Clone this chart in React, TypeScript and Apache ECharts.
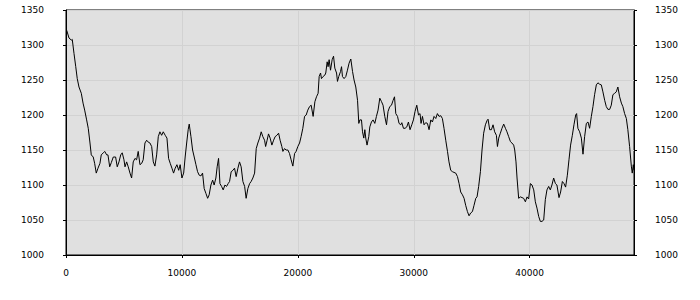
import React, { useEffect, useRef } from "react";
import * as echarts from "echarts";

const xValues: number[] = [
  60, 260, 460, 540, 690, 840, 970, 1120, 1320, 1470, 1610, 1780, 1920, 2070, 2180, 2350, 2470, 2610, 2760, 2930,
  3040, 3220, 3340, 3510, 3620, 3770, 3910, 4080, 4280, 4420, 4570, 4720, 4850, 5000, 5090, 5230, 5370, 5520, 5660, 5800,
  5950, 6090, 6230, 6380, 6530, 6660, 6810, 6960, 7040, 7240, 7390, 7530, 7670, 7820, 7960, 8100, 8250, 8390, 8560, 8710,
  8850, 8990, 9140, 9280, 9420, 9570, 9720, 9850, 10000, 10150, 10280, 10410, 10540, 10630, 10780, 10920, 11060, 11210, 11350, 11490,
  11640, 11780, 11920, 12070, 12220, 12350, 12500, 12650, 12780, 12930, 13040, 13160, 13280, 13420, 13560, 13710, 13850, 13990, 14110, 14250,
  14400, 14540, 14680, 14830, 14970, 15110, 15260, 15410, 15540, 15690, 15840, 15970, 16120, 16270, 16410, 16550, 16700, 16840, 16980, 17130,
  17220, 17350, 17470, 17610, 17760, 17910, 18040, 18190, 18340, 18470, 18620, 18710, 18850, 18990, 19140, 19280, 19420, 19570, 19720, 19850,
  20000, 20150, 20280, 20430, 20580, 20720, 20860, 21010, 21150, 21320, 21470, 21610, 21750, 21840, 21960, 22040, 22180, 22330, 22410, 22530,
  22610, 22700, 22820, 22960, 23080, 23190, 23340, 23420, 23530, 23680, 23770, 23850, 23990, 24140, 24280, 24420, 24570, 24720, 24850, 25000,
  25150, 25260, 25350, 25490, 25580, 25690, 25780, 25860, 25970, 26120, 26210, 26350, 26490, 26640, 26780, 26920, 27070, 27220, 27350, 27500,
  27650, 27780, 27930, 28080, 28220, 28340, 28450, 28600, 28730, 28880, 28970, 29110, 29250, 29400, 29540, 29680, 29830, 29970, 30110, 30260,
  30410, 30540, 30630, 30750, 30890, 31030, 31180, 31320, 31470, 31610, 31750, 31900, 32040, 32180, 32330, 32470, 32610, 32760, 32910, 33040,
  33190, 33340, 33470, 33620, 33770, 33910, 34050, 34200, 34340, 34480, 34630, 34770, 34910, 35060, 35200, 35350, 35460, 35600, 35750, 35890,
  36030, 36180, 36320, 36410, 36550, 36700, 36840, 36980, 37130, 37220, 37330, 37470, 37610, 37760, 37910, 38040, 38190, 38340, 38470, 38620,
  38710, 38820, 38910, 39050, 39200, 39340, 39480, 39630, 39770, 39910, 40060, 40200, 40350, 40490, 40630, 40780, 40920, 41060, 41210, 41350,
  41490, 41640, 41780, 41920, 42070, 42220, 42350, 42530, 42670, 42820, 42960, 43100, 43250, 43390, 43530, 43680, 43820, 43970, 44050, 44160,
  44310, 44460, 44600, 44740, 44890, 45030, 45170, 45320, 45460, 45600, 45750, 45890, 46030, 46180, 46320, 46470, 46610, 46750, 46900, 47040,
  47180, 47330, 47470, 47610, 47760, 47910, 48040, 48190, 48340, 48470, 48620, 48770, 48850, 48940, 49000,
];

const yValues: number[] = [
  1321, 1310, 1307, 1308, 1288, 1269, 1252, 1240, 1231, 1217, 1207, 1193, 1181, 1160, 1143, 1140, 1131, 1117, 1124, 1131,
  1143, 1146, 1148, 1143, 1143, 1126, 1132, 1140, 1140, 1126, 1133, 1143, 1146, 1136, 1126, 1133, 1126, 1117, 1110, 1133,
  1138, 1136, 1148, 1129, 1131, 1136, 1160, 1164, 1162, 1160, 1155, 1133, 1127, 1143, 1169, 1176, 1171, 1176, 1171, 1167,
  1138, 1131, 1124, 1117, 1124, 1129, 1121, 1129, 1110, 1117, 1140, 1160, 1179, 1187, 1169, 1150, 1140, 1129, 1119, 1114,
  1113, 1117, 1095, 1088, 1081, 1086, 1100, 1107, 1100, 1110, 1126, 1138, 1102, 1098, 1093, 1100, 1098, 1102, 1105, 1119,
  1121, 1124, 1112, 1124, 1133, 1126, 1105, 1098, 1081, 1095, 1102, 1105, 1110, 1117, 1152, 1160, 1167, 1176, 1169, 1164,
  1155, 1164, 1173, 1167, 1157, 1164, 1169, 1171, 1174, 1164, 1155, 1148, 1152, 1150, 1150, 1145, 1136, 1127, 1145, 1148,
  1155, 1160, 1169, 1181, 1198, 1200, 1207, 1212, 1214, 1198, 1219, 1226, 1231, 1255, 1260, 1252, 1255, 1257, 1260, 1276,
  1269, 1279, 1264, 1279, 1284, 1267, 1260, 1248, 1255, 1262, 1269, 1255, 1252, 1255, 1264, 1274, 1280, 1262, 1250, 1240,
  1221, 1188, 1193, 1193, 1176, 1167, 1179, 1167, 1157, 1169, 1183, 1190, 1193, 1188, 1198, 1207, 1224, 1219, 1214, 1198,
  1186, 1205, 1212, 1214, 1221, 1226, 1202, 1198, 1188, 1186, 1189, 1181, 1181, 1183, 1190, 1179, 1186, 1193, 1205, 1214,
  1200, 1202, 1188, 1198, 1186, 1189, 1188, 1179, 1193, 1190, 1198, 1195, 1202, 1198, 1199, 1195, 1181, 1164, 1148, 1133,
  1121, 1119, 1118, 1117, 1112, 1102, 1090, 1086, 1081, 1071, 1062, 1056, 1060, 1062, 1071, 1081, 1083, 1098, 1119, 1150,
  1174, 1186, 1192, 1194, 1179, 1179, 1186, 1176, 1171, 1155, 1167, 1174, 1181, 1187, 1181, 1176, 1169, 1162, 1160, 1157,
  1150, 1133, 1110, 1081, 1083, 1082, 1081, 1076, 1083, 1080, 1102, 1100, 1093, 1076, 1067, 1055, 1048, 1048, 1050, 1079,
  1093, 1098, 1093, 1100, 1110, 1102, 1100, 1082, 1090, 1105, 1102, 1097, 1114, 1136, 1157, 1171, 1186, 1200, 1202, 1181,
  1176, 1167, 1144, 1169, 1188, 1190, 1181, 1198, 1212, 1229, 1243, 1246, 1244, 1243, 1233, 1221, 1212, 1208, 1208, 1214,
  1229, 1231, 1233, 1240, 1226, 1217, 1212, 1202, 1195, 1179, 1155, 1127, 1117, 1129, 1121,
];

const xTickValues: number[] = [0, 10000, 20000, 30000, 40000];
const yMin = 1000;
const yMax = 1350;
const yStep = 50;
const xMax = 49000;

export default function App() {
  const ref = useRef<HTMLDivElement>(null);
  useEffect(() => {
    document.body.style.margin = "0";
    if (!ref.current) return;
    const chart = echarts.init(ref.current, undefined, { renderer: "svg" });
    const n = Math.min(xValues.length, yValues.length);
    const data: [number, number][] = [];
    for (let i = 0; i < n; i++) data.push([xValues[i], yValues[i]]);
    const font = { fontFamily: "DejaVu Sans", fontSize: 9, color: "#000" };
    const plain = (v: number) => String(v);
    const yAxisBase = {
      type: "value" as const,
      min: yMin,
      max: yMax,
      interval: yStep,
      axisLine: { show: true, lineStyle: { color: "#000", width: 1 } },
      axisTick: { show: true, inside: false, length: 3, lineStyle: { color: "#000" } },
    };
    chart.setOption({
      animation: false,
      backgroundColor: "#fff",
      grid: {
        left: 66,
        right: 66,
        top: 10,
        bottom: 45,
        show: true,
        backgroundColor: "#e0e0e0",
        borderColor: "#000",
        borderWidth: 1,
      },
      xAxis: {
        type: "value",
        min: 0,
        max: xMax,
        interval: 10000,
        axisLine: { show: true, onZero: false, lineStyle: { color: "#000", width: 1 } },
        axisTick: { show: true, inside: false, length: 3, customValues: xTickValues, lineStyle: { color: "#000" } },
        axisLabel: { ...font, margin: 13, customValues: xTickValues, formatter: plain },
        splitLine: { show: true, lineStyle: { color: "#d2d2d2", width: 1 } },
      },
      yAxis: [
        {
          ...yAxisBase,
          position: "left",
          axisLabel: { ...font, margin: 22, formatter: plain },
          splitLine: { show: true, lineStyle: { color: "#d2d2d2", width: 1 } },
        },
        {
          ...yAxisBase,
          position: "right",
          axisLabel: { ...font, margin: 21, formatter: plain },
          splitLine: { show: false },
        },
      ],
      series: [
        {
          type: "line",
          data,
          showSymbol: false,
          symbol: "none",
          lineStyle: { color: "#000", width: 1 },
          silent: true,
        },
      ],
    });
    return () => chart.dispose();
  }, []);
  return <div ref={ref} style={{ width: 700, height: 300 }} />;
}
